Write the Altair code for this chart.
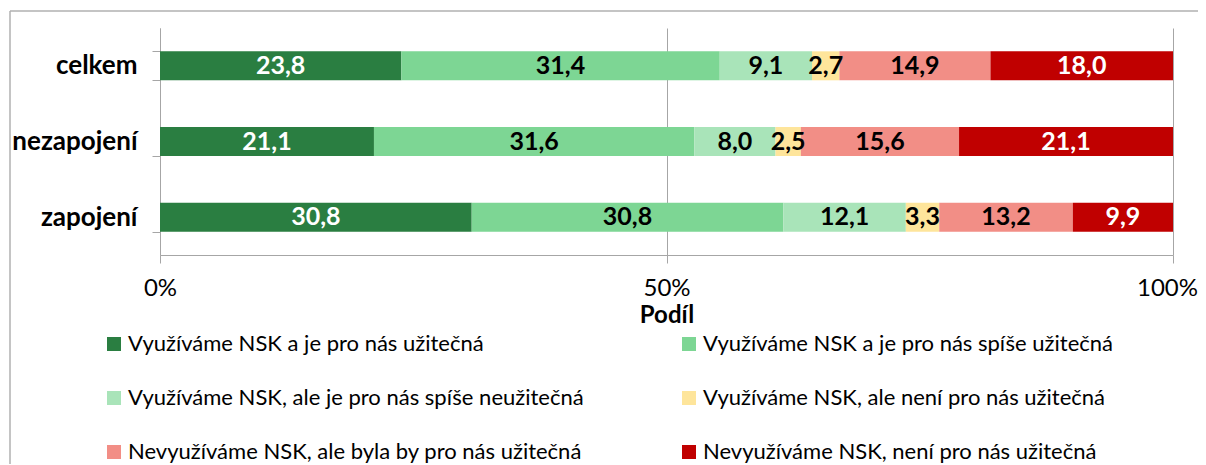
import altair as alt
import pandas as pd

groups = ["celkem", "nezapojení", "zapojení"]
series = [
    "Využíváme NSK a je pro nás užitečná",
    "Využíváme NSK a je pro nás spíše užitečná",
    "Využíváme NSK, ale je pro nás spíše neužitečná",
    "Využíváme NSK, ale není pro nás užitečná",
    "Nevyužíváme NSK, ale byla by pro nás užitečná",
    "Nevyužíváme NSK, není pro nás užitečná",
]
colors = ["#2a7e41", "#7dd694", "#a9e4b9", "#fee59b", "#f28e86", "#c00000"]
values_celkem = [23.8, 31.4, 9.1, 2.7, 14.9, 18.0]
values_nezapojeni = [21.1, 31.6, 8.0, 2.5, 15.6, 21.1]
values_zapojeni = [30.8, 30.8, 12.1, 3.3, 13.2, 9.9]
x_ticks = [0, 0.5, 1]

rows = []
for g, vals in zip(groups, [values_celkem, values_nezapojeni, values_zapojeni]):
    for i, (s, v) in enumerate(zip(series, vals)):
        rows.append({"skupina": g, "serie": s, "poradi": i, "hodnota": v,
                     "popisek": f"{v:.1f}".replace(".", ",")})
df = pd.DataFrame(rows)

FONT = "Lato"
GREY = "#a6a6a6"

base = alt.Chart(df).transform_stack(
    stack="hodnota", groupby=["skupina"], as_=["x0", "x1"],
    sort=[alt.SortField("poradi", order="ascending")], offset="normalize"
).transform_calculate(mid="(datum.x0 + datum.x1) / 2")

yenc = alt.Y("skupina:N", sort=groups, title=None,
             scale=alt.Scale(paddingInner=0.617, paddingOuter=0.3085),
             axis=alt.Axis(tickBand="extent", labelFont=FONT, labelFontSize=26,
                           labelFontWeight="bold", labelColor="black",
                           labelPadding=15, tickSize=8, tickColor=GREY,
                           domainColor=GREY, grid=False))

bars = base.mark_bar().encode(
    x=alt.X("x0:Q", scale=alt.Scale(domain=[0, 1], nice=False),
            title="Podíl",
            axis=alt.Axis(values=x_ticks, format="%", labelFont=FONT,
                          labelFontSize=24, labelColor="black", labelPadding=13,
                          labelFlush=False,
                          labelOffset={"condition": {"test": "datum.value == 1", "value": -6},
                                       "value": 0},
                          tickSize=8, tickColor=GREY, domainColor=GREY,
                          grid=True, gridColor=GREY, titleFont=FONT,
                          titleFontSize=24, titleFontWeight="bold",
                          titleColor="black", titlePadding=3)),
    x2="x1:Q",
    y=yenc,
    color=alt.Color("serie:N", scale=alt.Scale(domain=series, range=colors),
                    legend=alt.Legend(title=None, orient="none", legendX=-57,
                                      legendY=305, columns=2,
                                      direction="horizontal",
                                      symbolType="square", symbolSize=196,
                                      symbolStrokeWidth=0, labelFont=FONT,
                                      labelFontSize=22, labelColor="black",
                                      labelLimit=700, labelOffset=3,
                                      columnPadding=94, rowPadding=32)),
    order=alt.Order("poradi:Q"),
)

labels = base.mark_text(font=FONT, fontSize=25, fontWeight="bold").encode(
    x=alt.X("mid:Q"),
    y=alt.Y("skupina:N", sort=groups),
    text="popisek:N",
    color=alt.condition("datum.poradi == 0 || datum.poradi == 5",
                        alt.value("white"), alt.value("black")),
)

frame_df = pd.DataFrame({"a": [0]})
frame_left = alt.Chart(frame_df).mark_rule(color="#b0b0b0", strokeWidth=1.5).encode(
    x=alt.value(-150), y=alt.value(-17), y2=alt.value(600))
frame_top = alt.Chart(frame_df).mark_rule(color="#b0b0b0", strokeWidth=1.5).encode(
    x=alt.value(-150), x2=alt.value(1300), y=alt.value(-17))

chart = alt.layer(frame_left, frame_top, bars, labels).properties(
    width=1013, height=227,
    autosize=alt.AutoSizeParams(type="none"),
    padding={"left": 152, "top": 20, "right": 25, "bottom": 209},
).configure_view(stroke=None)

chart.save("out.html", embed_options={"renderer": "svg", "actions": False})
